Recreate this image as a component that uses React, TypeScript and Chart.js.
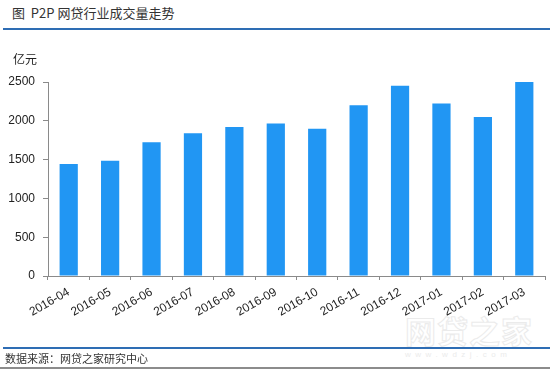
import React, { useEffect, useRef } from "react";
import { Chart, registerables } from "chart.js";

Chart.register(...registerables);

const categories = [
  "2016-04", "2016-05", "2016-06", "2016-07", "2016-08", "2016-09",
  "2016-10", "2016-11", "2016-12", "2017-01", "2017-02", "2017-03",
];
const volumes = [1443, 1486, 1722, 1838, 1921, 1964, 1899, 2200, 2451, 2222, 2050, 2500];
const yTicks = [0, 500, 1000, 1500, 2000, 2500];

const FONT = "'Liberation Sans', Arial, sans-serif";
const CJK = "'Noto Sans CJK SC', 'Noto Sans', sans-serif";

export default function App() {
  const ref = useRef<HTMLCanvasElement | null>(null);

  useEffect(() => {
    document.body.style.margin = "0";
    const canvas = ref.current;
    if (!canvas) return;
    const chart = new Chart(canvas, {
      type: "bar",
      data: {
        labels: categories,
        datasets: [
          {
            data: volumes,
            backgroundColor: "#2196f3",
            borderWidth: 0,
            categoryPercentage: 1,
            barPercentage: 0.44,
          },
        ],
      },
      options: {
        animation: false,
        responsive: false,
        maintainAspectRatio: false,
        layout: { padding: { left: 0, right: 5, top: 82, bottom: 0 } },
        plugins: { legend: { display: false }, tooltip: { enabled: false }, title: { display: false } },
        scales: {
          x: {
            offset: true,
            grid: {
              offset: true,
              drawOnChartArea: false,
              drawTicks: true,
              tickLength: 4,
              color: "#8a8a8a",
            },
            border: { display: true, color: "#8a8a8a", width: 1 },
            ticks: {
              color: "#222",
              font: { family: FONT, size: 12 },
              maxRotation: 30,
              minRotation: 30,
              padding: 5,
              autoSkip: false,
            },
            afterFit: (scale: any) => {
              scale.height = 93;
            },
          },
          y: {
            min: 0,
            max: 2500,
            afterBuildTicks: (scale: any) => {
              scale.ticks = yTicks.map((v) => ({ value: v }));
            },
            grid: {
              drawOnChartArea: false,
              drawTicks: true,
              tickLength: 5,
              color: "#8a8a8a",
            },
            border: { display: true, color: "#8a8a8a", width: 1 },
            ticks: {
              color: "#222",
              font: { family: FONT, size: 12 },
              padding: 8,
              callback: (v: any) => String(v),
            },
            afterFit: (scale: any) => {
              scale.width = 48;
            },
          },
        },
      },
    });
    return () => chart.destroy();
  }, []);

  return (
    <div style={{ position: "relative", width: 550, height: 369, background: "#fff", overflow: "hidden" }}>
      <div
        style={{
          position: "absolute", left: 12, top: 4, fontFamily: CJK, fontSize: 13,
          color: "#333", whiteSpace: "pre", lineHeight: "18px",
        }}
      >
        图  P2P 网贷行业成交量走势
      </div>
      <div style={{ position: "absolute", left: 3, right: 0, top: 28, height: 2, background: "#2e6db4" }} />
      <div
        style={{
          position: "absolute", left: 405, top: 312, fontFamily: CJK, fontSize: 31, fontWeight: 700,
          color: "#fff", WebkitTextStroke: "1px #ebebeb", letterSpacing: 1, lineHeight: "36px",
        }}
      >
        网贷之家
      </div>
      <div
        style={{
          position: "absolute", left: 405, top: 350, fontFamily: FONT, fontSize: 8,
          color: "#ebebeb", letterSpacing: 4.5, lineHeight: "10px",
        }}
      >
        www.wdzj.com
      </div>
      <canvas ref={ref} width={550} height={369} style={{ position: "absolute", left: 0, top: 0 }} />
      <div
        style={{
          position: "absolute", left: 13, top: 51, fontFamily: CJK, fontSize: 12,
          color: "#222", lineHeight: "16px",
        }}
      >
        亿元
      </div>
      <div style={{ position: "absolute", left: 3, right: 0, top: 347, height: 2, background: "#2e6db4" }} />
      <div
        style={{
          position: "absolute", left: 5, top: 350, fontFamily: CJK, fontSize: 11,
          color: "#333", lineHeight: "16px",
        }}
      >
        数据来源：网贷之家研究中心
      </div>
      <div style={{ position: "absolute", left: 0, right: 0, top: 367, height: 2, background: "#8c8c8c" }} />
    </div>
  );
}
